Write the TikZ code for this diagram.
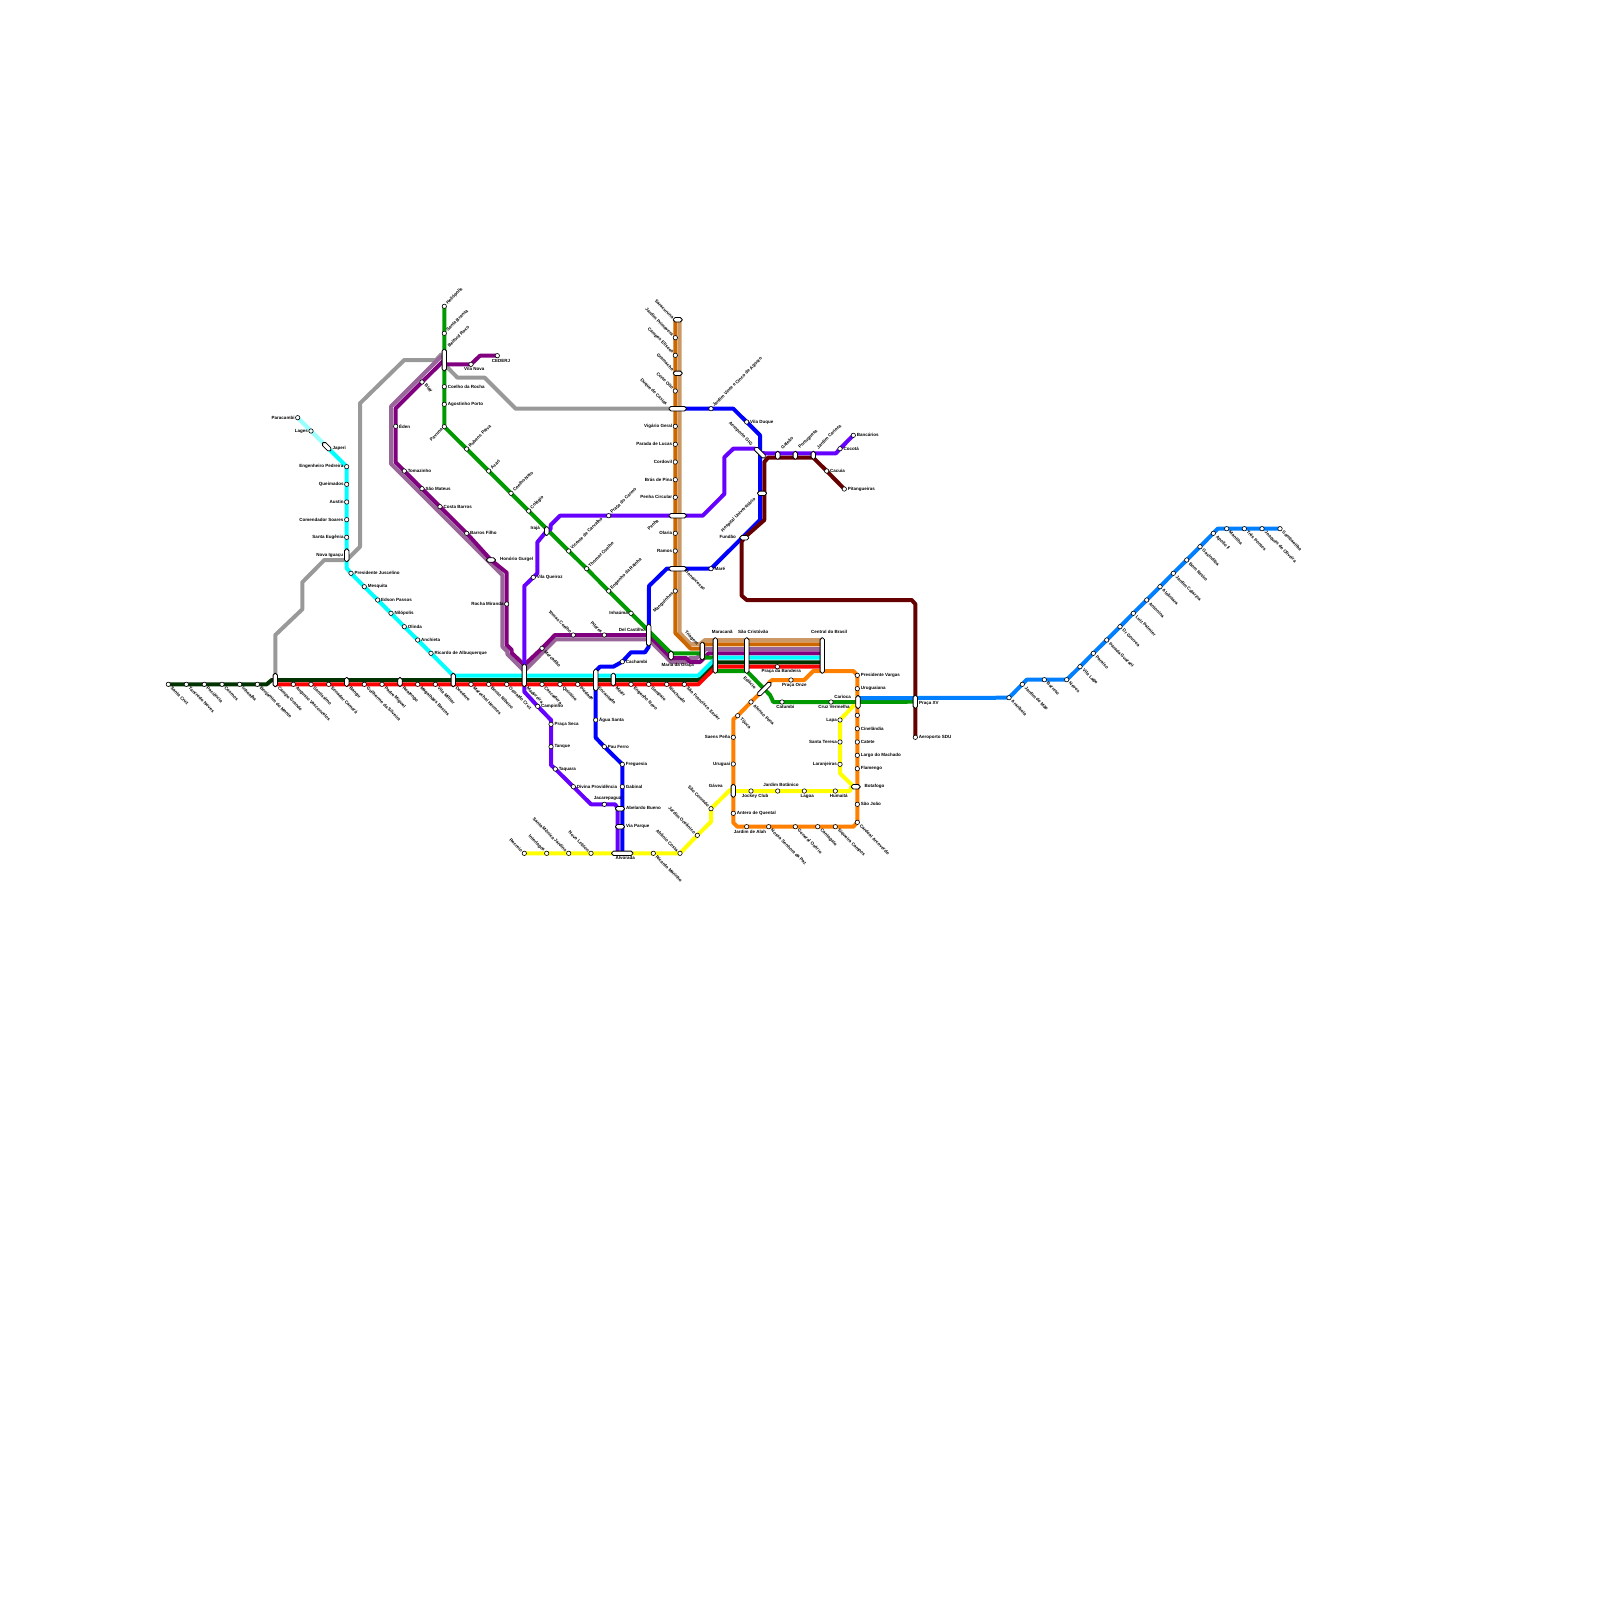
\documentclass[tikz,border=0pt]{standalone}
\usepackage{fontspec}
\setmainfont{Liberation Sans}
\usetikzlibrary{backgrounds}

\definecolor{lnCyan}{HTML}{00FFFF}
\definecolor{lnCyanPale}{HTML}{99FFFF}
\definecolor{lnForest}{HTML}{003300}
\definecolor{lnRed}{HTML}{FF0000}
\definecolor{lnGray}{HTML}{999999}
\definecolor{lnGreen}{HTML}{009900}
\definecolor{lnPurple}{HTML}{800080}
\definecolor{lnMauve}{HTML}{996699}
\definecolor{lnRust}{HTML}{CC6600}
\definecolor{lnTan}{HTML}{CC9966}
\definecolor{lnOrange}{HTML}{FF8000}
\definecolor{lnBlue}{HTML}{0000FF}
\definecolor{lnViolet}{HTML}{6600FF}
\definecolor{lnMaroon}{HTML}{660000}
\definecolor{lnYellow}{HTML}{FFFF00}
\definecolor{lnAzure}{HTML}{0080FF}

\newcommand{\stops}[2]{%
    \foreach \n/\x/\y/\txt in {#2} {
        \coordinate (\n) at (\x,\y);
        \node[stn] (\n-m) at (\n) {};
        \node[#1] (\n-t) at (\n) {\txt};
    }%
}

\begin{document}
\begin{tikzpicture}[
    x=1pt, y=-1pt,
    stn/.style={circle, draw, fill=white, line width=0.6pt, inner sep=0pt, minimum size=4.4pt},
    hub/.style={rectangle, rounded corners=1.9pt, draw, fill=white, line width=0.8pt, inner sep=0pt},
    lbl/.style={font=\fontsize{4.5}{5}\selectfont\bfseries, inner sep=0pt},
    txR/.style={lbl, anchor=west},
    txL/.style={lbl, anchor=east},
    txSE/.style={lbl, rotate=-45, anchor=west},
    txNE/.style={lbl, rotate=45, anchor=west},
    txNW/.style={lbl, rotate=-45, anchor=east},
    txSW/.style={lbl, rotate=45, anchor=east},
    stR/.style={txR, xshift=3.3pt},
    stL/.style={txL, xshift=-3pt},
    stSE/.style={txSE, xshift=4.2pt},
    stNE/.style={txNE, xshift=3.5pt},
    stNW/.style={txNW, xshift=-3.2pt},
    stSW/.style={txSW, xshift=-3.2pt},
    ln/.style={line width=4pt, line join=round, line cap=round}
]
    \useasboundingbox (0,0) rectangle (1600,1600);

    % stations
    \stops{stSE}{santaCruz/168.3/684.3/Santa Cruz, tancredo/186.3/684.3/Tancredo Neves,
        paciencia/204.3/684.3/Paciência, cosmos/222/684.3/Cosmos, inhoaiba/239.7/684.3/Inhoaíba,
        benjamim/257.3/684.3/Benjamim do Monte, augusto/293.3/684.3/Augusto Vasconcelos,
        santissimo/311/684.3/Santíssimo, senador/328.7/684.3/Senador Camará,
        guilherme/364.3/684.3/Guilherme da Silveira, padre/382/684.3/Padre Miguel,
        magalhaes/417.7/684.3/Magalhães Bastos, vilaMilitar/435.3/684.3/Vila Militar,
        marechal/471/684.3/Marechal Hermes, bento/488.7/684.3/Bento Ribeiro,
        oswaldo/506.7/684.3/Oswaldo Cruz, cascadura/542/684.3/Cascadura, quintino/560/684.3/Quintino,
        piedade/577.7/684.3/Piedade, engNovo/631/684.3/Engenho Novo, sampaio/648.7/684.3/Sampaio,
        riachuelo/666.7/684.3/Riachuelo, saoFrancisco/684.3/684.3/São Francisco Xavier,
        blay/422/382/Blay, mercadao/542/648.3/Mercadão, ricardoMarinho/653.3/853.3/Ricardo Marinho,
        afonso/751/702/Afonso Pena, tijuca/737.7/715.7/Tijuca,
        nossaSenhora/768.7/826.7/Nossa Senhora da Paz, osorio/795.3/826.7/General Osório,
        cantagalo/817.7/826.7/Cantagalo, siqueira/835.3/826.7/Siqueira Campos,
        cardeal/857.3/822.3/Cardeal Arcoverde, arariboia/1009/697.7/Arariboia,
        jardimMae/1022.3/684.3/Jardim de Mãe, barreto/1044.3/679.7/Barreto, neves/1066.7/679.7/Neves,
        vilaLage/1080/666.7/Vila Lage, paraiso/1093.3/653.3/Paraíso, paradaGuarani/1106.7/640/Parada Guarani,
        drGouvea/1120/626.7/Dr Gouvea, luizPalmier/1133.3/613.3/Luiz Palmier, antonina/1146.7/600/Antonina,
        alcantara/1160/586.7/Alcântara, jardimCatarina/1173.3/573.3/Jardim Catarina,
        bomRetiro/1186.7/560/Bom Retiro, guaxindiba/1200/546.7/Gaxindiba, apollo/1213.3/533.3/Apollo II,
        manilha/1226.7/528.7/Manilha, tresPontes/1244.3/528.7/Três Pontes,
        joaquim/1262/528.7/Joaquim de Oliveira, sambaetiba/1280/528.7/Sambaetiba}
    \stops{stNE}{heliopolis/444.3/306.3/Heliópolis, santaBranca/444.3/333.3/Santa Branca,
        rubens/466.7/449/Rubens Paiva, acari/488.7/471/Acari, coelhoNeto/511/493.3/Coelho Neto,
        colegio/528.7/511/Colégio, vicente/568.7/551/Vicente de Carvalho,
        thomaz/586.7/568.7/Thomaz Coelho, engRainha/608.7/591/Engenho da Rainha,
        pracaCarmo/608.7/515.7/Praça do Carmo, jardim25/711/408.7/Jardim Vinte e Cinco de Agosto}
    \stops{stR}{eden/395.7/426.3/Éden, tomazinho/404.3/471/Tomazinho, saoMateus/422/488.7/São Mateus,
        costaBarros/440/506.7/Costa Barros, barrosFilho/466.7/533.3/Barros Filho,
        coelhoRocha/444.3/386.7/Coelho da Rocha, agostinho/444.3/404.3/Agostinho Porto,
        vilaDuque/746.7/422/Vila Duque, bancarios/853.3/435.3/Bancários, cacota/840/448.7/Cocotá,
        cacuia/826.7/471/Cacuia, pitangueiras/844.3/489/Pitangueiras, vilaQueiroz/533.3/577.3/Vila Queiroz,
        campinho/537.7/706.3/Campinho, pracaSeca/551/724.3/Praça Seca, tanque/551/746.7/Tanque,
        taquara/555.3/769/Taquara, divina/573.3/786.7/Divina Providência, aguaSanta/595.7/720/Água Santa,
        pauFerro/604.3/746.7/Pau Ferro, freguesia/622.3/764.3/Freguesia, gabinal/622.3/786.7/Gabinal,
        cachambi/622.3/661.7/Cachambi, mare/711/568.7/Maré,
        presJuscelino/351/573.3/Presidente Juscelino, mesquita/364.3/586.7/Mesquita,
        edson/377.7/600/Edson Passos, nilopolis/391/613.3/Nilópolis, olinda/404.3/626.7/Olinda,
        anchieta/417.7/640/Anchieta, ricardoAlb/431/653.3/Ricardo de Albuquerque,
        presVargas/857.3/675.3/Presidente Vargas, uruguaiana/857.3/688.7/Uruguaiana,
        cinelandia/857.3/728.7/Cinelândia, catete/857.3/742/Catete, largo/857.3/755.3/Largo do Machado,
        flamengo/857.3/768.7/Flamengo, saoJoao/857.3/804.3/São João,
        antero/733.3/813.3/Antero de Quental, aeroportoSdu/915.3/737.3/Aeroporto SDU}
    \stops{stL}{paracambi/297.7/417.7/Paracambi, lages/311/431/Lages, engPedreira/346.7/466.7/Engenheiro Pedreira,
        queimados/346.7/484.3/Queimados, austin/346.7/502/Austin, comendador/346.7/519.7/Comendador Soares,
        santaEugenia/346.7/537.3/Santa Eugênia, vigario/675.3/426.3/Vigário Geral,
        parada/675.3/444.3/Parada de Lucas, cordovil/675.3/462/Cordovil, bras/675.3/479.7/Brás de Pina,
        penhaCircular/675.3/497.3/Penha Circular, olaria/675.3/533.3/Olaria, ramos/675.3/551/Ramos,
        rochaMiranda/506.7/604/Rocha Miranda, inhauma/631/613.3/Inhaúma, saensPena/733.3/737.3/Saens Peña,
        uruguai/733.3/764/Uruguai, lapa/840/720/Lapa, santaTeresa/840/742/Santa Teresa,
        laranjeiras/840/764.3/Laranjeiras}
    \stops{stNW}{jardimPrimavera/675.3/337.7/Jardim Primavera, camposEliseos/675.3/355.3/Campos Elíseos,
        corteOito/675.3/391/Corte Oito, tomasCoelho/573.3/635/Tomas Coelho, pilares/604.3/635/Pilares,
        afranio/680/853.3/Afrânio Costa, jardimOceanico/697.3/835.3/Jardim Oceânico,
        saoConrado/711/808.7/São Conrado, recreio/524.3/853.3/Recreio, interlagos/546.7/853.3/Interlagos,
        santaMonica/568.7/853.3/Santa Mônica Jardins, novoLeblon/591/853.3/Novo Leblon}
    \stops{stSW}{pavuna/444.3/426.7/Pavuna, manguinhos/675.3/591/Manguinhos}
    \foreach \n/\x/\y/\dx/\dy/\txt in {jockey/751/791/4/5/Jockey Club, botanico/777.7/791/3.3/-6/Jardim Botânico,
        lagoa/804.3/791/3/5/Lagoa, humaita/835.3/791/3.4/5/Humaitá, jardimAlah/746.7/826.7/3.3/5/Jardim de Alah,
        catumbi/782/702/3.3/5/Catumbi, cruzVermelha/831/702/3/5/Cruz Vermelha,
        pracaBandeira/777.3/666.7/4/5/Praça da Bandeira, pracaOnze/791/680/3.3/5/Praça Onze,
        vilaNova/471/364.3/3.3/5/Vila Nova, cederj/497.3/355.7/3.7/5/CEDERJ,
        jacarepagua/604.3/804.3/3.3/-6/Jacarepaguá} {
        \coordinate (\n) at (\x,\y);
        \node[stn] (\n-m) at (\n) {};
        \node[lbl] (\n-t) at (\x+\dx,\y+\dy) {\txt};
    }
    \coordinate (gloria) at (857.3,715.3);
    \node[stn] (gloria-m) at (gloria) {};

    % interchanges
    \foreach \n/\x/\y/\w/\h/\ang in {saracuruna/677.7/319.7/9/4.4/0, gramacho/677.7/373.3/9/4.4/0,
        duqueCaxias/677.7/408.7/17.5/4.4/0, penha/677.7/515.7/17.5/4.4/0, bonsucesso/677.7/568.7/17.5/4.4/0,
        belfordRoxo/444.3/360/4.4/21.7/0, honorio/491/560/9/4.4/0, iraja/546.7/531/4.4/8.7/0,
        novaIguacu/346.7/555.3/4.4/13/0, japeri/326.7/446.7/11/4.4/-45, campoGrande/275.3/680/4.4/13.4/0,
        bangu/346.7/682/4.4/9/0, realengo/400/682/4.4/9/0, deodoro/453.3/680/4.4/13.4/0,
        madureira/524.3/675.3/4.4/22.7/0, encantado/595.7/680/4.4/21.7/0, meier/613.3/679.5/4.4/12.7/0,
        delCastilho/648.7/635/4.4/21.7/0, mariaGraca/671/655.5/4.4/9/0, triagem/702.3/651/4.4/17.7/0,
        maracana/715.3/655.5/4.4/35.6/0, saoCristovao/746.7/655.5/4.4/35.6/0, central/822.3/655.5/4.4/35.6/0,
        estacio/764.3/689/18/4.4/45, aeroportoGig/760/452.7/14/4.4/-45, galeao/777.7/455.3/4.4/8/0,
        portuguesa/795.3/455.3/4.4/8/0, jardimCarioca/813.3/455.3/4.4/8/0, hospital/762/493.3/9/4.4/0,
        fundao/744.3/537.7/9/4.4/0, abelardo/620/808.7/9/4.4/0, viaParque/620/826.7/9/4.4/0,
        alvorada/622.3/853.3/21.5/4.4/0, gavea/733.3/790.7/4.4/13/0, carioca/858/702/4.4/13/0,
        botafogo/855.7/786.7/9/4.4/0, pracaXV/915.3/701.7/4.4/13/0} {
        \coordinate (\n) at (\x,\y);
        \node[hub, minimum width=\w pt, minimum height=\h pt, rotate=\ang] (\n-m) at (\n) {};
    }
    \node[txNW] (saracuruna-t) at (673.3,318.3) {Saracuruna};
    \node[txNW] (gramacho-t) at (673.3,370) {Gramacho};
    \node[txNW] (duqueCaxias-t) at (666.7,405) {Duque de Caxias};
    \node[txSW] (penha-t) at (658,520) {Penha};
    \node[txSE] (bonsucesso-t) at (685.7,570.7) {Bonsucesso};
    \node[txNE] (belfordRoxo-t) at (448.3,346.7) {Belford Roxo};
    \node[txR] (honorio-t) at (500,559.3) {Honório Gurgel};
    \node[txL] (iraja-t) at (540,528.3) {Irajá};
    \node[txL] (novaIguacu-t) at (343.3,555) {Nova Iguaçu};
    \node[txR] (japeri-t) at (332.3,448.3) {Japeri};
    \node[txSE] (campoGrande-t) at (278.3,687.3) {Campo Grande};
    \node[txSE] (bangu-t) at (349.7,687.3) {Bangu};
    \node[txSE] (realengo-t) at (403,687.3) {Realengo};
    \node[txSE] (deodoro-t) at (456.3,687.3) {Deodoro};
    \node[txSE] (madureira-t) at (527.3,687.3) {Madureira};
    \node[txSE] (encantado-t) at (598.7,687.3) {Encantado};
    \node[txSE] (meier-t) at (616.3,687.3) {Méier};
    \node[txL] (delCastilho-t) at (645,630.3) {Del Castilho};
    \node[lbl] (mariaGraca-t) at (677.7,665) {Maria da Graça};
    \node[txNW] (triagem-t) at (697.7,644.3) {Triagem};
    \node[lbl] (maracana-t) at (722.3,631.7) {Maracanã};
    \node[lbl] (saoCristovao-t) at (753.3,631.7) {São Cristóvão};
    \node[lbl] (central-t) at (829,631.7) {Central do Brasil};
    \node[txSE] (estacio-t) at (744,676.7) {Estácio};
    \node[txNW] (aeroportoGig-t) at (751.7,445) {Aeroporto GIG};
    \node[txNE] (galeao-t) at (781.7,448.3) {Galeão};
    \node[txNE] (portuguesa-t) at (799.3,448.3) {Portuguesa};
    \node[txNE] (jardimCarioca-t) at (817.3,448.3) {Jardim Carioca};
    \node[txSW] (hospital-t) at (755,498.3) {Hospital Universitário};
    \node[txL] (fundao-t) at (736,537.3) {Fundão};
    \node[txR] (abelardo-t) at (626,808.3) {Abelardo Bueno};
    \node[txR] (viaParque-t) at (626,826) {Via Parque};
    \node[lbl] (alvorada-t) at (625.3,858.3) {Alvorada};
    \node[txL] (gavea-t) at (722.7,786) {Gávea};
    \node[lbl] (carioca-t) at (842.7,697.3) {Carioca};
    \node[txR] (botafogo-t) at (864.3,786) {Botafogo};
    \node[txR] (pracaXV-t) at (919,703.5) {Praça XV};

    % bends
    \foreach \n/\x/\y in {bFoA/266.7/684.3, bFoB/271.7/680, bFoC/698.3/680, bFoD/716/662.3, bFoE/822.3/662.3,
        bReA/275.3/684.3, bReB/698.3/684.3, bReC/716/666.7, bReD/822.3/666.7,
        bCyA/346.7/568.3, bCyB/453.3/675.7, bCyC/698.3/675.7, bCyD/716.3/657.7, bCyE/822.3/657.7,
        bGrA/275.3/635, bGrB/302.3/609.3, bGrC/302.3/582.3, bGrD/324.3/560, bGrE/346.7/560, bGrF/360/546.7,
        bGrG/360/403.3, bGrH/404.3/360, bGrI/436/360, bGrJ/441/354.5, bGrK/446.7/366.7, bGrL/457.5/377.7,
        bGrM/484.7/377.7, bGrN/515.7/408.7,
        bPuA/395.7/408.3, bPuB/395.7/462.3, bPuC/506.7/572.7, bPuD/506.7/645, bPuE/511.7/650, bPuF/511.7/653,
        bPuG/524.3/665, bPuH/555/635, bPuI/648.7/635, bPuJ/671/658, bPuK/686/658, bPuL/690/662, bPuM/700/662,
        bPuN/708.7/653.3, bPuO/822.3/653.3, bPuP/444.3/364.3, bPuQ/480/355.7,
        bMaA/441/356.5, bMaB/391/406.5, bMaC/391/463.8, bMaD/502.3/575.1, bMaE/502.3/646.5, bMaF/507.3/651.5,
        bMaG/507.3/654, bMaH/524.3/671, bMaI/555.7/639.3, bMaJ/648.7/639.3, bMaK/671/662, bMaL/686/662,
        bMaM/690/658, bMaN/697/658, bMaO/706/649, bMaP/822.3/649,
        bRuA/675.3/319.7, bRuB/675.3/633, bRuC/690.6/648.6, bRuD/700/648.6, bRuE/705/644.3, bRuF/822.3/644.3,
        bTaA/679.7/319.7, bTaB/679.7/633, bTaC/690.6/644, bTaD/700/644, bTaE/705/640, bTaF/822.3/640,
        bGnA/671/653.3, bGnB/700/653.3, bGnC/706/657.7, bGnD/714/657.7, bGnE/715.3/671, bGnF/746.7/671,
        bGnG/770/695, bGnH/773.3/702, bGnI/858/702,
        bViA/524.3/586, bViB/537.3/573.3, bViC/537.3/542.3, bViD/550.7/529, bViE/550.7/525, bViF/560/515.7,
        bViG/702.7/515.7, bViH/724.3/494, bViI/724.3/457.3, bViJ/733.3/448.7, bViK/755/448.7, bViL/765/453.3,
        bViM/836/453.3, bViN/524.3/691.7, bViO/551/720, bViP/551/765, bViQ/591/804.3, bViR/615/804.3,
        bViS/617.7/808, bViT/617.7/851.7,
        bBlA/733.3/408.7, bBlB/760/435.3, bBlC/760/520, bBlD/666.7/568.7, bBlE/649/586, bBlF/648.7/646.7,
        bBlG/645/652.3, bBlH/631/652.3, bBlI/613.3/666.7, bBlJ/600/666.7, bBlK/595.7/671, bBlL/595.7/737.7,
        bMrA/915.3/604, bMrB/911.7/600, bMrC/746.7/600, bMrD/741.7/595.7, bMrE/741.7/541.7, bMrF/764.3/520,
        bMrG/764.3/462, bMrH/768/457.7, bMrI/813.3/457.7,
        bAzA/858/698, bAzB/1026.7/679.7, bAzC/1217.7/528.7, bAzD/915.3/698,
        bOrA/822.3/671, bOrB/853.3/671, bOrC/853.3/826.7, bOrD/737.3/826.7, bOrE/733.3/822.7, bOrF/733.3/719.3,
        bOrG/770/681.7, bOrH/772.3/680, bOrI/804.3/680, bOrJ/813.3/671,
        bYeA/711/821.7, bYeB/730/790, bYeC/733.3/791, bYeD/850/791, bYeE/852/785, bYeF/840/773.3, bYeG/853.3/706} {
        \coordinate (\n) at (\x,\y);
    }

    % lines
    \begin{pgfonlayer}{background}
        \draw[ln, lnGray] (campoGrande) -- (bGrA) -- (bGrB) -- (bGrC) -- (bGrD) -- (bGrE) -- (bGrF) -- (bGrG)
            -- (bGrH) -- (bGrI) -- (bGrJ) -- (belfordRoxo) -- (bGrK) -- (bGrL) -- (bGrM) -- (bGrN) -- (duqueCaxias);
        \draw[ln, lnMauve] (bMaA) -- (bMaB) -- (bMaC) -- (bMaD) -- (bMaE) -- (bMaF) -- (bMaG) -- (bMaH) -- (bMaI)
            -- (bMaJ) -- (bMaK) -- (bMaL) -- (bMaM) -- (bMaN) -- (bMaO) -- (bMaP);
        \draw[ln, lnPurple] (belfordRoxo) -- (blay) -- (bPuA) -- (eden) -- (bPuB) -- (tomazinho) -- (saoMateus)
            -- (costaBarros) -- (barrosFilho) -- (honorio) -- (bPuC) -- (rochaMiranda) -- (bPuD) -- (bPuE) -- (bPuF)
            -- (bPuG) -- (mercadao) -- (bPuH) -- (tomasCoelho) -- (pilares) -- (bPuI) -- (bPuJ) -- (bPuK) -- (bPuL)
            -- (bPuM) -- (bPuN) -- (bPuO);
        \draw[ln, lnPurple] (bPuP) -- (vilaNova) -- (bPuQ) -- (cederj);
        \draw[ln, lnTan] (bTaA) -- (bTaB) -- (bTaC) -- (bTaD) -- (bTaE) -- (bTaF);
        \draw[ln, lnRust] (bRuA) -- (jardimPrimavera) -- (camposEliseos) -- (corteOito) -- (vigario) -- (parada)
            -- (cordovil) -- (bras) -- (penhaCircular) -- (olaria) -- (ramos) -- (manguinhos) -- (bRuB) -- (bRuC)
            -- (bRuD) -- (bRuE) -- (bRuF);
        \draw[ln, lnGreen] (heliopolis) -- (santaBranca) -- (belfordRoxo) -- (coelhoRocha) -- (agostinho) -- (pavuna)
            -- (rubens) -- (acari) -- (coelhoNeto) -- (colegio) -- (vicente) -- (thomaz) -- (engRainha) -- (inhauma)
            -- (bGnA) -- (bGnB) -- (bGnC) -- (bGnD) -- (bGnE) -- (bGnF) -- (bGnG) -- (bGnH) -- (catumbi)
            -- (cruzVermelha) -- (bGnI) -- (pracaXV);
        \draw[ln, lnViolet] (bViO) -- (pracaSeca) -- (tanque) -- (bViP) -- (taquara) -- (divina) -- (bViQ)
            -- (jacarepagua) -- (bViR) -- (bViS) -- (bViT);
        \draw[ln, lnViolet] (madureira) -- (bViN) -- (campinho) -- (bViO);
        \draw[ln, lnViolet] (madureira) -- (bViA) -- (vilaQueiroz) -- (bViB) -- (bViC) -- (iraja) -- (bViD) -- (bViE)
            -- (bViF) -- (pracaCarmo) -- (penha) -- (bViG) -- (bViH) -- (bViI) -- (bViJ) -- (bViK) -- (aeroportoGig)
            -- (bViL) -- (bViM) -- (cacota) -- (bancarios);
        \draw[ln, lnBlue] (duqueCaxias) -- (jardim25) -- (bBlA) -- (vilaDuque) -- (bBlB) -- (bBlC) -- (mare)
            -- (bonsucesso) -- (bBlD) -- (bBlE) -- (delCastilho) -- (bBlF) -- (bBlG) -- (bBlH) -- (cachambi) -- (bBlI)
            -- (bBlJ) -- (bBlK) -- (aguaSanta) -- (bBlL) -- (pauFerro) -- (freguesia) -- (gabinal) -- (alvorada);
        \draw[ln, lnMaroon] (aeroportoSdu) -- (pracaXV) -- (bMrA) -- (bMrB) -- (bMrC) -- (bMrD) -- (bMrE) -- (fundao)
            -- (bMrF) -- (bMrG) -- (bMrH) -- (bMrI) -- (cacuia) -- (pitangueiras);
        \draw[ln, lnAzure] (bAzA) -- (bAzD) -- (arariboia) -- (jardimMae) -- (bAzB) -- (barreto) -- (neves) -- (vilaLage)
            -- (paraiso) -- (paradaGuarani) -- (drGouvea) -- (luizPalmier) -- (antonina) -- (alcantara)
            -- (jardimCatarina) -- (bomRetiro) -- (guaxindiba) -- (apollo) -- (bAzC) -- (manilha) -- (tresPontes)
            -- (joaquim) -- (sambaetiba);
        \draw[ln, lnForest] (santaCruz) -- (tancredo) -- (paciencia) -- (cosmos) -- (inhoaiba) -- (benjamim) -- (bFoA)
            -- (bFoB) -- (bFoC) -- (bFoD) -- (bFoE);
        \draw[ln, lnRed] (bReA) -- (augusto) -- (santissimo) -- (senador) -- (guilherme) -- (padre) -- (magalhaes)
            -- (vilaMilitar) -- (marechal) -- (bento) -- (oswaldo) -- (cascadura) -- (quintino) -- (piedade) -- (engNovo)
            -- (sampaio) -- (riachuelo) -- (saoFrancisco) -- (bReB) -- (bReC) -- (pracaBandeira) -- (bReD);
        \draw[ln, lnCyanPale] (paracambi) -- (lages) -- (japeri);
        \draw[ln, lnCyan] (japeri) -- (engPedreira) -- (queimados) -- (austin) -- (comendador) -- (santaEugenia)
            -- (novaIguacu) -- (bCyA) -- (presJuscelino) -- (mesquita) -- (edson) -- (nilopolis) -- (olinda) -- (anchieta)
            -- (ricardoAlb) -- (bCyB) -- (bCyC) -- (bCyD) -- (bCyE);
        \draw[ln, lnOrange] (bOrA) -- (bOrB) -- (presVargas) -- (uruguaiana) -- (gloria) -- (cinelandia) -- (catete)
            -- (largo) -- (flamengo) -- (saoJoao) -- (cardeal) -- (bOrC) -- (siqueira) -- (cantagalo) -- (osorio)
            -- (nossaSenhora) -- (jardimAlah) -- (bOrD) -- (bOrE) -- (antero) -- (gavea) -- (uruguai) -- (saensPena)
            -- (bOrF) -- (tijuca) -- (afonso) -- (estacio) -- (bOrG) -- (bOrH) -- (pracaOnze) -- (bOrI) -- (bOrJ) -- (bOrA);
        \draw[ln, lnYellow] (recreio) -- (interlagos) -- (santaMonica) -- (novoLeblon) -- (alvorada) -- (ricardoMarinho)
            -- (afranio) -- (jardimOceanico) -- (bYeA) -- (saoConrado) -- (bYeB) -- (bYeC) -- (jockey) -- (botanico)
            -- (lagoa) -- (humaita) -- (bYeD) -- (bYeE) -- (bYeF) -- (laranjeiras) -- (santaTeresa) -- (lapa) -- (bYeG);
    \end{pgfonlayer}
\end{tikzpicture}
\end{document}
